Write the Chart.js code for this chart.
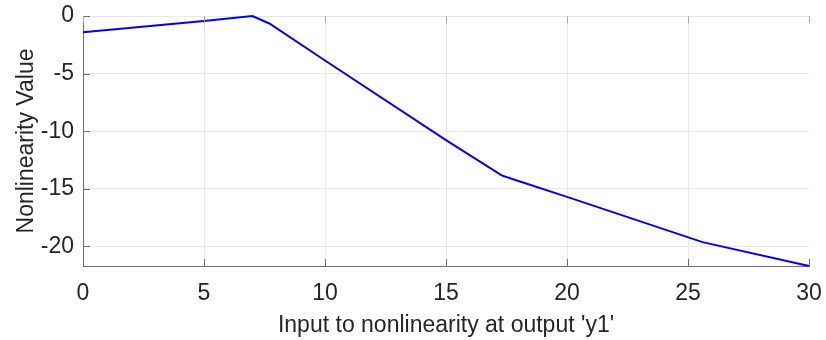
<!DOCTYPE html>
<html lang="en">

<head>
  <meta charset="UTF-8">
  <title>Nonlinearity</title>
  <style>
    body {
      margin: 0;
      background-color: #ffffff;
    }

    #chart-container {
      width: 826px;
      height: 340px;
    }
  </style>
</head>

<body>
  <div id="chart-container">
    <canvas id="nlChart"></canvas>
  </div>

  <script src="https://cdn.jsdelivr.net/npm/chart.js"></script>
  <script>
    // values
    const inputValues = [0, 5, 7, 7.7, 10, 15, 17.3, 17.9, 20, 25.6, 30];
    const nonlinValues = [-1.42, -0.43, 0, -0.65, -3.86, -10.78, -13.83, -14.26, -15.7, -19.63, -21.7];
    const xTicks = [0, 5, 10, 15, 20, 25, 30];
    const yTicks = [0, -5, -10, -15, -20];

    const axisColor = '#6e6e6e';
    const gridColor = '#e8e8e8';
    const font = { family: '"Liberation Sans", Arial, sans-serif', size: 23 };

    // MATLAB style ticks pointing into the axes
    const innerTicks = {
      id: 'innerTicks',
      afterDraw(chart) {
        const { ctx, chartArea, scales } = chart;
        ctx.save();
        ctx.lineWidth = 1;
        ctx.strokeStyle = axisColor;
        ctx.beginPath();
        xTicks.forEach(v => {
          const px = Math.round(scales.x.getPixelForValue(v)) + 0.5;
          ctx.moveTo(px, chartArea.bottom);
          ctx.lineTo(px, chartArea.bottom - 7);
        });
        yTicks.forEach(v => {
          const py = Math.round(scales.y.getPixelForValue(v)) + 0.5;
          ctx.moveTo(chartArea.left, py);
          ctx.lineTo(chartArea.left + 7, py);
        });
        ctx.stroke();
        // faint top ticks
        ctx.strokeStyle = '#a8a8a8';
        ctx.beginPath();
        xTicks.forEach(v => {
          const px = Math.round(scales.x.getPixelForValue(v)) + 0.5;
          ctx.moveTo(px, chartArea.top);
          ctx.lineTo(px, chartArea.top + 7);
        });
        ctx.stroke();
        ctx.restore();
      }
    };

    const ctx = document.getElementById('nlChart').getContext('2d');

    new Chart(ctx, {
      type: 'line',
      data: {
        datasets: [{
          data: inputValues.map((x, i) => ({ x: x, y: nonlinValues[i] })),
          borderColor: '#0000ff',
          borderWidth: 2,
          pointRadius: 0,
          tension: 0,
          fill: false,
          clip: false
        }]
      },
      options: {
        responsive: true,
        maintainAspectRatio: false,
        animation: false,
        layout: {
          padding: { top: 16, right: 17, left: 0, bottom: 0 }
        },
        plugins: {
          legend: { display: false },
          tooltip: { enabled: false }
        },
        scales: {
          x: {
            type: 'linear',
            min: 0,
            max: 30,
            afterBuildTicks: s => { s.ticks = xTicks.map(v => ({ value: v })); },
            afterFit: s => { s.height = 74; s.paddingLeft = 0; s.paddingRight = 0; },
            grid: {
              drawTicks: false,
              color: c => (c.tick && c.tick.value > 0 && c.tick.value < 30) ? gridColor : 'rgba(0,0,0,0)'
            },
            border: { display: true, color: axisColor, width: 1 },
            ticks: { color: '#262626', font: font, padding: 14, maxRotation: 0 },
            title: {
              display: true,
              text: "Input to nonlinearity at output 'y1'",
              color: '#262626',
              font: font,
              padding: { top: 0, bottom: 1 }
            }
          },
          y: {
            type: 'linear',
            min: -21.7,
            max: 0,
            afterBuildTicks: s => { s.ticks = yTicks.map(v => ({ value: v })); },
            afterFit: s => { s.width = 83; s.paddingTop = 0; s.paddingBottom = 0; },
            grid: {
              drawTicks: false,
              color: gridColor
            },
            border: { display: true, color: axisColor, width: 1 },
            ticks: { color: '#262626', font: font, padding: 9 },
            title: {
              display: true,
              text: 'Nonlinearity Value',
              color: '#262626',
              font: font,
              padding: { top: 13, bottom: 0 }
            }
          }
        }
      },
      plugins: [innerTicks]
    });
  </script>
</body>

</html>
